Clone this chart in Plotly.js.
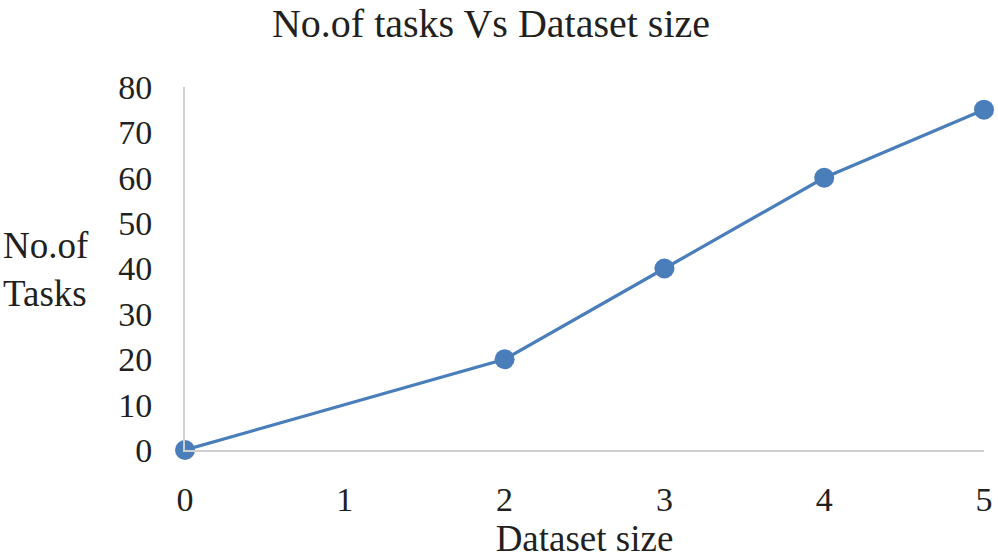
<!DOCTYPE html>
<html>
<head>
<meta charset="utf-8">
<script src="https://cdn.plot.ly/plotly-3.0.1.min.js"></script>
<style>
  html, body { margin: 0; padding: 0; background: #fff; }
  #chart { width: 998px; height: 559px; }
</style>
</head>
<body>
<div id="chart"></div>
<script>
// values
const datasetSize = [0, 2, 3, 4, 5];
const numTasks = [0, 20, 40, 60, 75];
const xTicks = [0, 1, 2, 3, 4, 5];
const yTicks = [0, 10, 20, 30, 40, 50, 60, 70, 80];

const serif = "Liberation Serif";
const textColor = "#231f20";
const blue = "#4a7ebb";

const trace = {
    x: datasetSize,
    y: numTasks,
    type: "scatter",
    mode: "lines+markers",
    line: { color: blue, width: 3.2 },
    marker: { color: blue, size: 20 },
    cliponaxis: false,
    hoverinfo: "skip"
};

const layout = {
    width: 998,
    height: 559,
    margin: { l: 185, r: 14, t: 87, b: 109 },
    paper_bgcolor: "#fff",
    plot_bgcolor: "#fff",
    showlegend: false,
    font: { family: serif, color: textColor, size: 34 },
    title: {
        text: "No.of tasks Vs Dataset size",
        font: { family: serif, size: 40, color: textColor },
        x: 0.492, xanchor: "center",
        y: 0.958, yanchor: "middle"
    },
    xaxis: {
        range: [0, 5],
        tickvals: xTicks,
        showgrid: false,
        zeroline: false,
        showline: true,
        linecolor: "#d0d0d0",
        linewidth: 2,
        ticks: "",
        ticklabelstandoff: 18,
        tickfont: { family: serif, size: 34, color: textColor },
        title: {
            text: "Dataset size",
            font: { family: serif, size: 37, color: textColor },
            standoff: 6
        }
    },
    yaxis: {
        range: [0, 80],
        tickvals: yTicks,
        showgrid: false,
        zeroline: false,
        showline: true,
        linecolor: "#d0d0d0",
        linewidth: 2,
        ticks: "",
        ticklabelstandoff: 24,
        tickfont: { family: serif, size: 34, color: textColor }
    },
    annotations: [{
        text: "No.of<br>Tasks",
        xref: "paper", yref: "paper",
        x: -0.23, y: 0.497,
        xanchor: "left", yanchor: "middle",
        align: "left",
        showarrow: false,
        font: { family: serif, size: 37, color: textColor }
    }]
};

Plotly.newPlot("chart", [trace], layout, { displayModeBar: false, staticPlot: true });
</script>
</body>
</html>
